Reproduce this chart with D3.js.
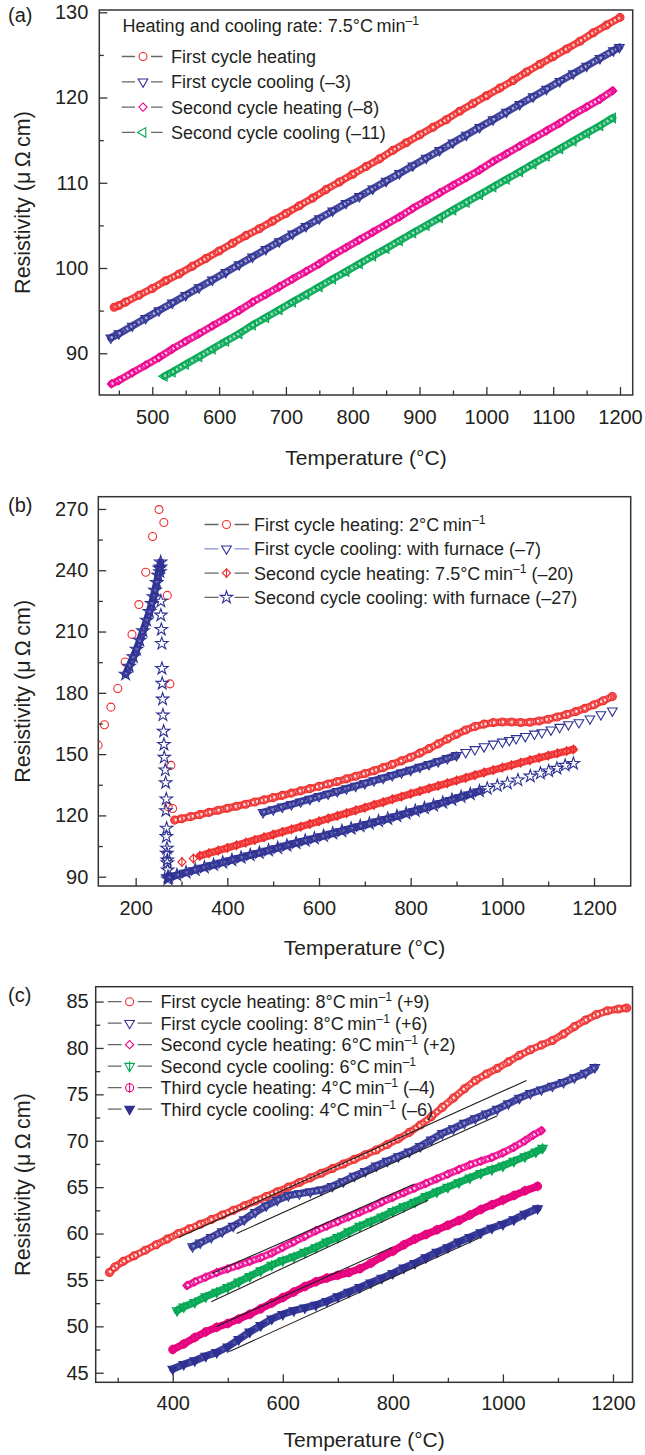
<!DOCTYPE html>
<html>
<head>
<meta charset="utf-8">
<script src="https://cdn.jsdelivr.net/npm/d3@7"></script>
<style>
body{margin:0;background:#fff}
svg text{font-family:"Liberation Sans",Arial,Helvetica,sans-serif;fill:#231f20}
</style>
</head>
<body>
<svg id="mainsvg" width="645" height="1455"></svg>
<script>
// ---------- panel (a) data : [temperature, resistivity] ----------
const aHeat1 = [[443,95.4],[450,95.6],[460,96.0],[480,96.8],[500,97.6],[520,98.5],[540,99.3],[560,100.2],[580,101.1],[600,102.0],[620,102.9],[640,103.8],[660,104.6],[680,105.5],[700,106.4],[720,107.3],[740,108.2],[760,109.2],[780,110.1],[800,111.0],[820,111.9],[840,112.8],[860,113.8],[880,114.7],[900,115.6],[920,116.5],[940,117.4],[960,118.4],[980,119.3],[1000,120.2],[1020,121.1],[1040,122.0],[1060,123.0],[1080,123.9],[1100,124.8],[1120,125.7],[1140,126.6],[1160,127.6],[1180,128.5],[1200,129.4]]
const aCool1 = [[438,91.8],[450,92.3],[470,93.2],[490,94.1],[510,95.0],[530,95.9],[550,96.8],[570,97.7],[590,98.6],[610,99.5],[630,100.4],[650,101.3],[670,102.2],[690,103.1],[710,104.0],[730,104.9],[750,105.8],[770,106.7],[790,107.6],[810,108.4],[830,109.3],[850,110.2],[870,111.1],[890,112.0],[910,112.9],[930,113.8],[950,114.7],[970,115.6],[990,116.5],[1010,117.4],[1030,118.3],[1050,119.2],[1070,120.1],[1090,121.0],[1110,121.9],[1130,122.8],[1150,123.7],[1170,124.6],[1190,125.5],[1199,125.9]]
const aHeat2 = [[439,86.4],[450,86.8],[470,87.7],[490,88.6],[510,89.5],[530,90.5],[550,91.4],[570,92.3],[590,93.2],[610,94.1],[630,95.0],[650,96.0],[670,96.9],[690,97.8],[710,98.7],[730,99.6],[750,100.5],[770,101.5],[790,102.4],[810,103.3],[830,104.2],[850,105.1],[870,106.0],[890,107.0],[910,107.9],[930,108.8],[950,109.7],[970,110.6],[990,111.5],[1010,112.5],[1030,113.4],[1050,114.3],[1070,115.2],[1090,116.1],[1110,117.0],[1130,118.0],[1150,118.9],[1170,119.8],[1189,120.8]]
const aCool2 = [[518,87.3],[530,87.8],[550,88.7],[570,89.6],[590,90.5],[610,91.4],[630,92.3],[650,93.3],[670,94.2],[690,95.1],[710,96.0],[730,96.9],[750,97.8],[770,98.7],[790,99.6],[810,100.5],[830,101.4],[850,102.3],[870,103.2],[890,104.1],[910,105.0],[930,105.9],[950,106.8],[970,107.7],[990,108.6],[1010,109.5],[1030,110.4],[1050,111.3],[1070,112.2],[1090,113.1],[1110,114.0],[1130,114.9],[1150,115.8],[1170,116.7],[1189,117.6]]
const aXTicks = [500,600,700,800,900,1000,1100,1200]
const aXMinor = [450,550,650,750,850,950,1050,1150]
const aYTicks = [90,100,110,120,130]
const aYMinor = [95,105,115,125]
const aTitle = 'Heating and cooling rate: 7.5°C\u2009min^{–1}'
const aLabels = ['First cycle heating','First cycle cooling (–3)','Second cycle heating (–8)','Second cycle cooling (–11)']

// ---------- panel (b) data ----------
const bHeat1Sparse = [[118,154.4],[132,164.4],[146,173.0],[161,182.1],[177,195.1],[192,208.6],[207,223.2],[222,239.0],[237,256.5],[251,269.7],[261.5,263.4],[269,227.7],[274.7,184.4],[277,144.5],[271,124.3],[280.5,123.4]]
const bHeat1 = [[285,117.7],[300,118.4],[320,119.4],[340,120.4],[360,121.5],[380,122.5],[400,123.5],[420,124.5],[440,125.5],[460,126.6],[480,127.6],[500,128.7],[520,129.8],[540,130.9],[560,132.0],[580,133.1],[600,134.2],[620,135.4],[640,136.6],[660,137.9],[680,139.2],[700,140.5],[720,141.9],[740,143.4],[760,145.0],[780,146.7],[800,148.5],[820,150.5],[840,152.7],[860,155.0],[880,157.4],[900,159.7],[920,161.8],[940,163.5],[960,164.7],[980,165.4],[1000,165.7],[1020,165.7],[1040,165.5],[1060,165.6],[1080,166.2],[1100,167.1],[1120,168.2],[1140,169.4],[1160,170.8],[1180,172.4],[1200,174.2],[1220,176.1],[1240,178.2]]
const bCool1 = [[478,121.5],[500,122.9],[520,124.2],[540,125.4],[560,126.7],[580,128.0],[600,129.3],[620,130.5],[640,131.8],[660,133.1],[680,134.4],[700,135.7],[720,137.0],[740,138.3],[760,139.6],[780,140.9],[800,142.2],[820,143.6],[840,145.0],[860,146.4],[880,147.9],[900,149.4]]
const bCool1Sparse = [[920,150.9],[940,152.3],[960,153.7],[980,155.0],[1000,156.0],[1015,156.8],[1030,157.7],[1050,158.7],[1070,159.9],[1086,160.6],[1106,161.9],[1125,163.2],[1144,164.5],[1167,165.5],[1191,167.3],[1215,169.4],[1240,171.2]]
const bHeat2Sparse = [[301,97.2],[326,98.9]]
const bHeat2 = [[340,100.2],[360,101.5],[380,102.8],[400,104.1],[420,105.4],[440,106.7],[460,108.0],[480,109.3],[500,110.6],[520,111.9],[540,113.2],[560,114.5],[580,115.8],[600,117.1],[620,118.5],[640,119.8],[660,121.1],[680,122.5],[700,123.8],[720,125.2],[740,126.5],[760,127.9],[780,129.2],[800,130.6],[820,131.9],[840,133.2],[860,134.5],[880,135.8],[900,137.1],[920,138.4],[940,139.7],[960,141.0],[980,142.2],[1000,143.4],[1020,144.6],[1040,145.8],[1060,147.0],[1080,148.2],[1100,149.3],[1120,150.4],[1140,151.5],[1155,152.3]]
const bCool2Curve = [[178,189.1],[186,193.0],[195,197.6],[202,201.3],[209,205.7],[216,210.3],[224,215.5],[230,219.8],[235,223.7],[239,227.0],[242,230.2],[246,234.0],[249,237.5],[252,241.0],[254.5,244.0]]
const bCool2Drop = [[254,241.6],[253,239.2],[255,224.8],[255,218.0],[256,211.0],[257,204.1],[257.3,191.9],[258,184.6],[258.8,176.9],[259.5,169.1],[261,161.2],[261.7,154.7],[262.4,148.4],[264.6,142.2],[265.4,136.0],[266.8,128.0],[266,122.3],[267.5,113.7],[267,109.6],[268.2,103.9],[268,101.4],[268.9,98.2],[269,96.8],[269.8,93.3],[270.4,90.0],[270.5,88.9]]
const bCool2 = [[272,89.6],[290,90.8],[310,92.1],[330,93.4],[350,94.6],[370,95.8],[390,97.0],[410,98.2],[430,99.4],[450,100.6],[470,101.7],[490,102.9],[510,104.1],[530,105.3],[550,106.5],[570,107.7],[590,108.8],[610,110.0],[630,111.2],[650,112.4],[670,113.6],[690,114.8],[710,116.0],[730,117.2],[750,118.4],[770,119.7],[790,121.0],[810,122.3],[830,123.6],[850,124.9],[870,126.3],[890,127.7],[910,129.1],[930,130.5],[950,131.9]]
const bCool2Sparse = [[967,133.2],[989,134.5],[1011,135.7],[1034,137.3],[1061,139.2],[1083,140.6],[1101,141.7],[1119,143.0],[1137,144.5],[1155,145.4]]
const bXTicks = [200,400,600,800,1000,1200]
const bXMinor = [300,500,700,900,1100]
const bYTicks = [90,120,150,180,210,240,270]
const bYMinor = [105,135,165,195,225,255]
const bLabels = ['First cycle heating: 2°C\u2009min^{–1}','First cycle cooling: with furnace (–7)','Second cycle heating: 7.5°C\u2009min^{–1} (–20)','Second cycle cooling: with furnace (–27)']

// ---------- panel (c) data ----------
const cHeat1 = [[285,55.8],[295,56.4],[310,57.0],[330,57.6],[350,58.2],[370,58.8],[390,59.4],[410,60.0],[430,60.5],[450,61.0],[470,61.5],[490,62.0],[510,62.5],[530,63.0],[550,63.5],[570,64.0],[590,64.5],[610,65.0],[630,65.5],[650,66.0],[670,66.5],[690,67.0],[710,67.5],[730,68.0],[750,68.5],[770,69.0],[790,69.6],[810,70.2],[830,70.9],[850,71.7],[870,72.6],[890,73.6],[910,74.6],[930,75.6],[950,76.5],[970,77.2],[990,77.8],[1010,78.5],[1030,79.2],[1050,79.8],[1070,80.3],[1090,80.8],[1110,81.5],[1130,82.3],[1150,83.0],[1170,83.6],[1190,84.0],[1210,84.2],[1225,84.3]]
const cCool1 = [[436,58.6],[450,59.0],[470,59.6],[490,60.2],[510,60.8],[530,61.5],[550,62.3],[570,63.0],[590,63.6],[610,64.1],[630,64.3],[650,64.5],[670,64.7],[690,65.1],[710,65.6],[730,66.2],[750,66.7],[770,67.3],[790,67.8],[810,68.3],[830,68.8],[850,69.4],[870,70.1],[890,70.8],[910,71.3],[930,71.9],[950,72.4],[970,72.9],[990,73.4],[1010,74.0],[1030,74.6],[1050,75.1],[1070,75.5],[1090,75.9],[1110,76.3],[1130,76.8],[1150,77.3],[1167,77.9]]
const cHeat2 = [[426,54.4],[440,54.8],[460,55.3],[480,55.8],[500,56.2],[520,56.6],[540,57.0],[560,57.4],[580,57.9],[600,58.5],[620,59.1],[640,59.7],[660,60.3],[680,60.8],[700,61.3],[720,61.8],[740,62.3],[760,62.8],[780,63.4],[800,63.9],[820,64.4],[840,64.9],[860,65.4],[880,65.9],[900,66.4],[920,66.9],[940,67.4],[960,67.8],[980,68.2],[1000,68.7],[1020,69.3],[1040,70.0],[1055,70.6],[1070,71.1]]
const cCool2 = [[408,51.7],[420,52.1],[440,52.6],[460,53.2],[480,53.7],[500,54.2],[520,54.8],[540,55.4],[560,56.0],[580,56.6],[600,57.1],[620,57.5],[640,58.0],[660,58.5],[680,59.1],[700,59.6],[720,60.2],[740,60.8],[760,61.3],[780,61.8],[800,62.4],[820,62.9],[840,63.4],[860,64.0],[880,64.5],[900,65.0],[920,65.5],[940,66.0],[960,66.5],[980,66.9],[1000,67.3],[1020,67.8],[1040,68.3],[1060,68.8],[1072,69.2]]
const cHeat3 = [[400,47.5],[420,48.1],[440,48.8],[460,49.4],[480,49.9],[500,50.3],[520,50.8],[540,51.3],[560,51.9],[580,52.5],[600,53.1],[620,53.7],[640,54.3],[660,54.8],[680,55.2],[700,55.5],[720,55.8],[740,56.2],[760,56.8],[780,57.5],[800,58.1],[820,58.8],[840,59.4],[860,59.9],[880,60.4],[900,60.9],[920,61.4],[940,62.0],[960,62.6],[980,63.1],[1000,63.6],[1020,64.1],[1040,64.6],[1063,65.1]]
const cCool3 = [[400,45.4],[420,45.9],[440,46.3],[460,46.8],[480,47.2],[500,47.8],[520,48.6],[540,49.4],[560,50.1],[580,50.8],[600,51.3],[620,51.7],[640,52.0],[660,52.3],[680,52.7],[700,53.2],[720,53.7],[740,54.2],[760,54.7],[780,55.2],[800,55.7],[820,56.3],[840,56.8],[860,57.4],[880,58.0],[900,58.5],[920,59.1],[940,59.6],[960,60.1],[980,60.6],[1000,61.0],[1020,61.5],[1040,62.1],[1063,62.7]]
// straight reference lines drawn over the curves
const cFits = [[[411.5,59.6],[1043,76.5]],[[516,60.0],[990,72.7]],[[471,55.7],[838,65.3]],[[470,52.65],[864,63.6]],[[480,50.0],[798,58.5]],[[503,47.3],[960,59.6]]]
const cXTicks = [400,600,800,1000,1200]
const cXMinor = [300,500,700,900,1100]
const cYTicks = [45,50,55,60,65,70,75,80,85]
const cYMinor = [47.5,52.5,57.5,62.5,67.5,72.5,77.5,82.5]
const cLabels = ['First cycle heating: 8°C\u2009min^{–1} (+9)','First cycle cooling: 8°C\u2009min^{–1} (+6)','Second cycle heating: 6°C\u2009min^{–1} (+2)','Second cycle cooling: 6°C\u2009min^{–1}','Third cycle heating: 4°C\u2009min^{–1} (–4)','Third cycle cooling: 4°C\u2009min^{–1} (–6)']

// ---------- styles ----------
const red = '#ee2a2a', navy = '#2e3192', magenta = '#ec008c', green = '#00a651', pink = '#e6007e'
const ink = '#231f20'
const svg = d3.select('#mainsvg')

const symPath = {
    circle: d3.symbol(d3.symbolCircle, 50)(),
    tri: d3.symbol(d3.symbolTriangle, 40)(),
    square: d3.symbol(d3.symbolSquare, 34)(),
    star: d3.symbol(d3.symbolStar, 48)()
}
function shapeOf(shape){
    if(shape === 'triDown') return [symPath.tri, 180]
    if(shape === 'triLeft') return [symPath.tri, -90]
    if(shape === 'diamond') return [symPath.square, 45]
    if(shape === 'star') return [symPath.star, 0]
    return [symPath.circle, 0]
}

function drawMarker(g, px, py, st, fillOverride){
    let [d, rot] = shapeOf(st.shape)
    let m = g.append('g').attr('transform', `translate(${px},${py})`)
    m.append('path')
        .attr('d', d)
        .attr('transform', `rotate(${rot})`)
        .attr('fill', fillOverride || (st.filled ? st.color : 'none'))
        .attr('stroke', st.color)
        .attr('stroke-width', 1.1)
    if(st.bar){
        m.append('path').attr('d', 'M0,-5L0,5').attr('stroke', st.color).attr('stroke-width', 1.1)
    }
}

// dense runs: overlapping hollow symbols read as a speckled band
function drawSeries(g, x, y, data, st, dense){
    let line = d3.line().x(d => x(d[0])).y(d => y(d[1]))
    if(dense){
        g.append('path')
            .datum(data)
            .attr('d', line)
            .attr('fill', 'none')
            .attr('stroke', st.color)
            .attr('stroke-width', 7.5)
            .attr('stroke-linecap', 'round')
            .attr('stroke-linejoin', 'round')
            .attr('opacity', st.band)
        if(st.tex){
            g.append('path')
                .datum(data)
                .attr('d', line)
                .attr('fill', 'none')
                .attr('stroke', '#fff')
                .attr('stroke-width', 2.6)
                .attr('stroke-dasharray', '2.2,2.2')
                .attr('opacity', st.tex)
        }
    }
    data.forEach(d => drawMarker(g, x(d[0]), y(d[1]), st))
}

function richText(g, px, py, str, size){
    let t = g.append('text').attr('x', px).attr('y', py).style('font-size', size + 'px')
    let parts = str.split(/\^\{([^}]*)\}/)
    parts.forEach((p, i) => {
        if(p === '') return
        if(i % 2 === 1){
            t.append('tspan').attr('dy', -7).style('font-size', (size * 0.68) + 'px').text(p)
        }else{
            t.append('tspan').attr('dy', i === 0 ? 0 : 7).text(p)
        }
    })
    return t
}

function drawFrame(g, x, y, xt, xm, yt, ym, xPad, yPad){
    let [x0, x1] = x.range(), [y0, y1] = y.range()
    let styleAxis = sel => {
        sel.select('.domain').remove()
        sel.selectAll('line').attr('stroke', '#333').attr('stroke-width', 1.3)
        sel.selectAll('text').style('font-size', '20px')
    }
    g.append('g').attr('transform', `translate(0,${y0})`)
        .call(d3.axisBottom(x).tickValues(xt).tickSize(-8).tickPadding(xPad).tickFormat(d3.format('d'))).call(styleAxis)
    g.append('g').attr('transform', `translate(0,${y0})`)
        .call(d3.axisBottom(x).tickValues(xm).tickSize(-4.5).tickFormat('')).call(styleAxis)
    g.append('g').attr('transform', `translate(${x0},0)`)
        .call(d3.axisLeft(y).tickValues(yt).tickSize(-8).tickPadding(yPad).tickFormat(d3.format('d'))).call(styleAxis)
    g.append('g').attr('transform', `translate(${x0},0)`)
        .call(d3.axisLeft(y).tickValues(ym).tickSize(-4.5).tickFormat('')).call(styleAxis)
    g.append('rect')
        .attr('x', x0).attr('y', y1)
        .attr('width', x1 - x0).attr('height', y0 - y1)
        .attr('fill', 'none').attr('stroke', '#333').attr('stroke-width', 1.5)
}

function drawTitles(g, x, y, tag, tagY, titleGap){
    let [x0, x1] = x.range(), [y0, y1] = y.range()
    g.append('text').attr('x', (x0 + x1) / 2).attr('y', y0 + titleGap)
        .attr('text-anchor', 'middle').style('font-size', '21px').text('Temperature (°C)')
    g.append('text').attr('transform', `translate(30,${(y0 + y1) / 2}) rotate(-90)`)
        .attr('text-anchor', 'middle').style('font-size', '21.5px').text('Resistivity (μ\u2009Ω\u2009cm)')
    g.append('text').attr('x', 8).attr('y', tagY).style('font-size', '20px').text(tag)
}

function drawLegend(g, labels, styles, lx0, lx1, lm, tx, y0, dy, lineColors){
    labels.forEach((lab, i) => {
        let cy = y0 + i * dy
        let lc = lineColors ? lineColors[i] : '#666'
        g.append('path').attr('d', `M${lx0},${cy}L${lm - 8},${cy}M${lm + 8},${cy}L${lx1},${cy}`)
            .attr('stroke', lc).attr('stroke-width', 1.3)
        drawMarker(g, lm, cy, styles[i], styles[i].filled ? null : '#fff')
        richText(g, tx, cy + 6.5, lab, 18)
    })
}

// ---------- (a) ----------
{
    const x = d3.scaleLinear([420.7, 1219], [99.3, 632.7])
    const y = d3.scaleLinear([85.1, 130.27], [395, 10])
    const g = svg.append('g')
    const st = [
        {color: red, shape: 'circle', band: 0.9, tex: 0.75},
        {color: navy, shape: 'triDown', band: 0.9, tex: 0.55},
        {color: magenta, shape: 'diamond', band: 0.9, tex: 0.75},
        {color: green, shape: 'triLeft', band: 0.9, tex: 0.6}
    ]
    drawSeries(g, x, y, aHeat1, st[0], true)
    drawSeries(g, x, y, aCool1, st[1], true)
    drawSeries(g, x, y, aHeat2, st[2], true)
    drawSeries(g, x, y, aCool2, st[3], true)
    drawFrame(g, x, y, aXTicks, aXMinor, aYTicks, aYMinor, 15, 11)
    drawTitles(g, x, y, '(a)', 22, 70)
    richText(g, 122.6, 31.5, aTitle, 18)
    drawLegend(g, aLabels, st, 121.7, 162.5, 143, 171, 56.5, 25.3)
}

// ---------- (b) ----------
{
    const x = d3.scaleLinear([118.5, 1280], [98.3, 630.7])
    const y = d3.scaleLinear([85.45, 276], [886, 496.7])
    const g = svg.append('g')
    const clip = g.append('clipPath').attr('id', 'clipb')
    clip.append('rect').attr('x', 98.3).attr('y', 496.7).attr('width', 532.4).attr('height', 389.3)
    const plot = g.append('g').attr('clip-path', 'url(#clipb)')
    const st = [
        {color: red, shape: 'circle', band: 0.85, tex: 0.85},
        {color: navy, shape: 'triDown', band: 0.9, tex: 0.35},
        {color: red, shape: 'diamond', bar: true, band: 0.9, tex: 0.3},
        {color: navy, shape: 'star', band: 0.95, tex: 0.25}
    ]
    drawSeries(plot, x, y, bHeat1Sparse, st[0], false)
    drawSeries(plot, x, y, bHeat1, st[0], true)
    drawSeries(plot, x, y, bCool1, st[1], true)
    drawSeries(plot, x, y, bCool1Sparse, st[1], false)
    drawSeries(plot, x, y, bHeat2Sparse, st[2], false)
    drawSeries(plot, x, y, bHeat2, st[2], true)
    drawSeries(plot, x, y, bCool2Curve, st[3], true)
    drawSeries(plot, x, y, bCool2Drop, st[3], false)
    drawSeries(plot, x, y, bCool2, st[3], true)
    drawSeries(plot, x, y, bCool2Sparse, st[3], false)
    drawFrame(g, x, y, bXTicks, bXMinor, bYTicks, bYMinor, 15, 10)
    drawTitles(g, x, y, '(b)', 512, 69)
    drawLegend(g, bLabels, st, 204.5, 249, 226.5, 254, 524.5, 24.3, ['#666', '#8c8cd0', '#666', '#666'])
}

// ---------- (c) ----------
{
    const x = d3.scaleLinear([260, 1235.5], [95.7, 632.5])
    const y = d3.scaleLinear([43.97, 86.6], [1382.3, 986.7])
    const g = svg.append('g')
    const st = [
        {color: red, shape: 'circle', band: 0.85, tex: 0.9},
        {color: navy, shape: 'triDown', band: 0.9, tex: 0.4},
        {color: magenta, shape: 'diamond', band: 0.85, tex: 0.85},
        {color: green, shape: 'triDown', bar: true, band: 0.95, tex: 0.15},
        {color: pink, shape: 'circle', bar: true, band: 1, tex: 0.1},
        {color: navy, shape: 'triDown', filled: true, band: 0.95, tex: 0.15}
    ]
    drawSeries(g, x, y, cHeat1, st[0], true)
    drawSeries(g, x, y, cCool1, st[1], true)
    drawSeries(g, x, y, cHeat2, st[2], true)
    drawSeries(g, x, y, cCool2, st[3], true)
    drawSeries(g, x, y, cHeat3, st[4], true)
    drawSeries(g, x, y, cCool3, st[5], true)
    cFits.forEach(f => {
        g.append('path').datum(f)
            .attr('d', d3.line().x(d => x(d[0])).y(d => y(d[1])))
            .attr('stroke', ink).attr('stroke-width', 1.1).attr('fill', 'none')
    })
    drawFrame(g, x, y, cXTicks, cXMinor, cYTicks, cYMinor, 14, 7)
    drawTitles(g, x, y, '(c)', 1002, 65)
    drawLegend(g, cLabels, st, 107.8, 152, 129.6, 160.5, 1001.7, 21.5)
}
</script>
</body>
</html>
